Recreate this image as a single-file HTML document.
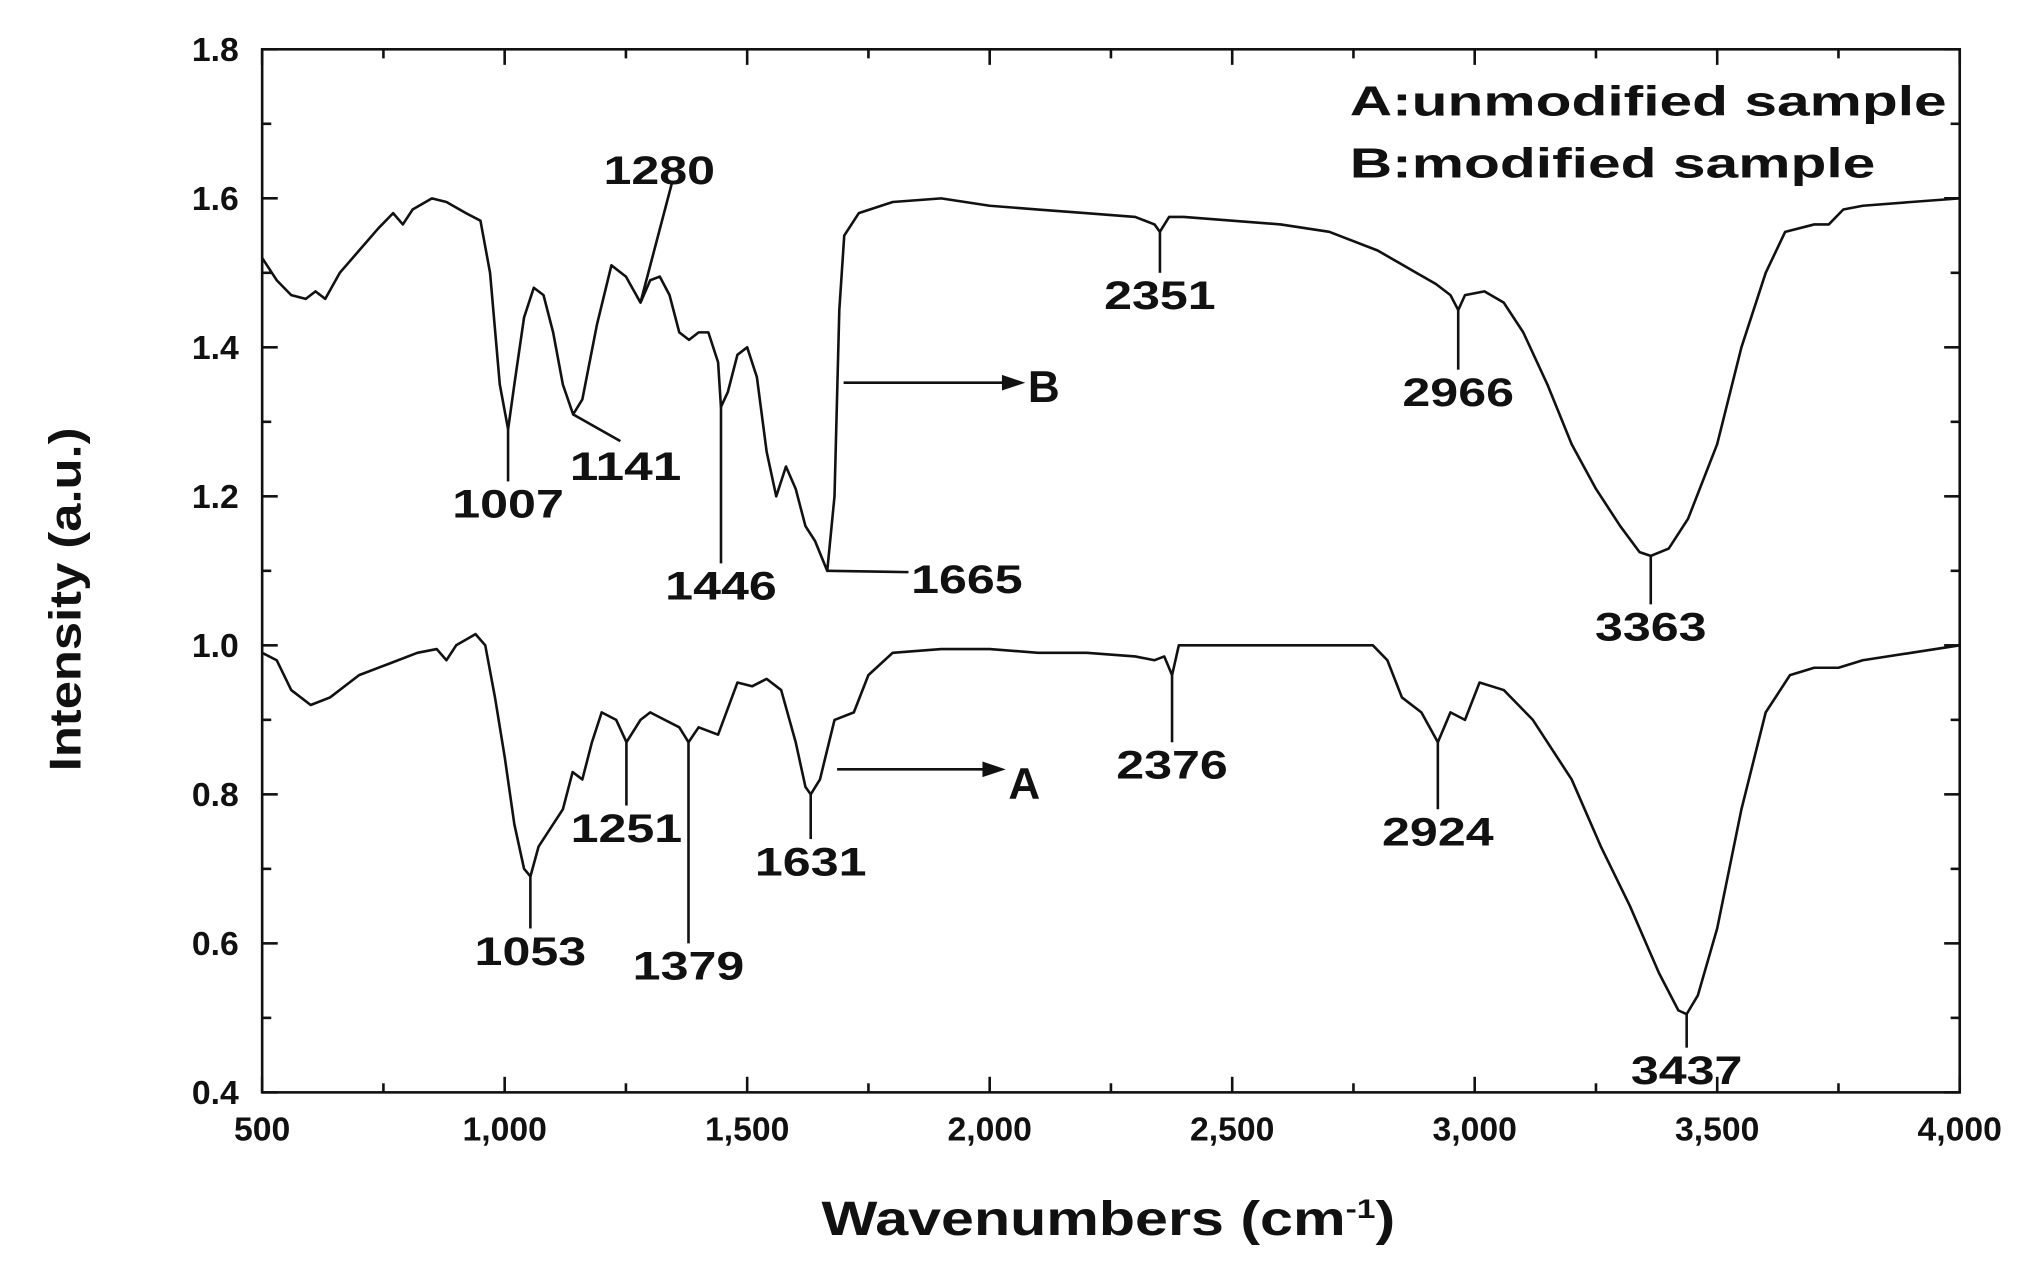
<!DOCTYPE html>
<html><head><meta charset="utf-8"><style>
html,body{margin:0;padding:0;background:#fff;}
svg{display:block;}
text{font-family:"Liberation Sans",Arial,sans-serif;font-weight:bold;fill:#111;}
</style></head><body>
<svg id="chart" width="2035" height="1274" viewBox="0 0 1568 982" preserveAspectRatio="none" xmlns="http://www.w3.org/2000/svg"></svg>
<script>
const bX=[500,530,560,590,610,630,660,700,740,770,790,810,850,880,920,950,970,990,1007,1020,1040,1060,1080,1100,1120,1141,1160,1190,1220,1250,1280,1300,1320,1340,1360,1380,1400,1420,1440,1446,1460,1480,1500,1520,1540,1560,1580,1600,1620,1640,1665,1680,1690,1700,1730,1800,1900,2000,2100,2200,2300,2340,2351,2370,2400,2500,2600,2700,2800,2880,2920,2950,2966,2980,3020,3060,3100,3150,3200,3250,3300,3340,3363,3400,3440,3500,3550,3600,3640,3700,3730,3760,3800,3900,4000];
const bY=[1.52,1.49,1.47,1.465,1.475,1.465,1.50,1.53,1.56,1.58,1.565,1.585,1.60,1.595,1.58,1.57,1.50,1.35,1.29,1.35,1.44,1.48,1.47,1.42,1.35,1.31,1.33,1.43,1.51,1.495,1.46,1.49,1.495,1.47,1.42,1.41,1.42,1.42,1.38,1.32,1.34,1.39,1.40,1.36,1.26,1.20,1.24,1.21,1.16,1.14,1.10,1.20,1.45,1.55,1.58,1.595,1.60,1.59,1.585,1.58,1.575,1.565,1.555,1.575,1.575,1.57,1.565,1.555,1.53,1.50,1.485,1.47,1.45,1.47,1.475,1.46,1.42,1.35,1.27,1.21,1.16,1.125,1.12,1.13,1.17,1.27,1.40,1.50,1.555,1.565,1.565,1.585,1.59,1.595,1.60];
const aX=[500,530,560,600,640,700,760,820,860,880,900,940,960,980,1000,1020,1040,1053,1070,1100,1120,1140,1160,1180,1200,1230,1251,1280,1300,1330,1360,1379,1400,1440,1480,1510,1540,1570,1600,1620,1631,1650,1680,1720,1750,1800,1900,2000,2100,2200,2300,2340,2360,2376,2390,2500,2600,2700,2790,2820,2850,2890,2924,2950,2980,3010,3060,3120,3200,3260,3320,3380,3420,3437,3460,3500,3550,3600,3650,3700,3750,3800,3900,4000];
const aY=[0.99,0.98,0.94,0.92,0.93,0.96,0.975,0.99,0.995,0.98,1.0,1.015,1.0,0.93,0.85,0.76,0.70,0.69,0.73,0.76,0.78,0.83,0.82,0.87,0.91,0.90,0.87,0.90,0.91,0.90,0.89,0.87,0.89,0.88,0.95,0.945,0.955,0.94,0.87,0.81,0.80,0.82,0.90,0.91,0.96,0.99,0.995,0.995,0.99,0.99,0.985,0.98,0.985,0.96,1.0,1.0,1.0,1.0,1.0,0.98,0.93,0.91,0.87,0.91,0.90,0.95,0.94,0.90,0.82,0.73,0.65,0.56,0.51,0.505,0.53,0.62,0.78,0.91,0.96,0.97,0.97,0.98,0.99,1.0];
const xTicks=[500,1000,1500,2000,2500,3000,3500,4000];
const xTickLabels=["500","1,000","1,500","2,000","2,500","3,000","3,500","4,000"];
const yTicks=[0.4,0.6,0.8,1.0,1.2,1.4,1.6,1.8];
const yTickLabels=["0.4","0.6","0.8","1.0","1.2","1.4","1.6","1.8"];
const annW=[1007,1446,2351,2966,3363,1053,1251,1379,1631,2376,2924,3437];
const annY1=[1.29,1.32,1.555,1.45,1.12,0.69,0.87,0.87,0.80,0.96,0.87,0.505];
const annY2=[1.22,1.11,1.50,1.37,1.055,0.62,0.785,0.60,0.74,0.87,0.78,0.46];
const annLbl=["1007","1446","2351","2966","3363","1053","1251","1379","1631","2376","2924","3437"];

const L=202,R=1510,T=38,B=842;
const sx=v=>L+(v-500)/3500*(R-L);
const sy=v=>B-(v-0.4)/1.4*(B-T);
const svg=document.getElementById('chart');
const NS='http://www.w3.org/2000/svg';
function mk(tag,attrs,parent){const e=document.createElementNS(NS,tag);for(const k in attrs)e.setAttribute(k,attrs[k]);(parent||svg).appendChild(e);return e;}

const frame=mk('rect',{x:L,y:T,width:R-L,height:B-T,fill:'none',stroke:'#111','stroke-width':2});



for(let v=500;v<=4000;v+=250){
  const major=(v%500===0),len=major?12:7,x=sx(v);
  const t1=mk('line',{x1:x,y1:B,x2:x,y2:B-len,stroke:'#111','stroke-width':2});
  
  
  const t2=mk('line',{x1:x,y1:T,x2:x,y2:T+len,stroke:'#111','stroke-width':2});
  
  
}
xTicks.forEach((v,i)=>{
  const t=mk('text',{x:sx(v),y:B+37,'font-size':26,'text-anchor':'middle'});
  t.textContent=xTickLabels[i];
  
  
});
for(let k=0;k<=14;k++){
  const v=0.4+k*0.1,major=(k%2===0),len=major?12:7,y=sy(v);
  const t1=mk('line',{x1:L,y1:y,x2:L+len,y2:y,stroke:'#111','stroke-width':2});
  
  
  const t2=mk('line',{x1:R,y1:y,x2:R-len,y2:y,stroke:'#111','stroke-width':2});
  
  
}
yTicks.forEach((v,i)=>{
  const t=mk('text',{x:L-18,y:sy(v)+9,'font-size':26,'text-anchor':'end'});
  t.textContent=yTickLabels[i];
  
  
});

function series(xs,ys,name){
  const d=xs.map((x,i)=>(i?'L':'M')+sx(x).toFixed(1)+','+sy(ys[i]).toFixed(1)).join(' ');
  const p=mk('path',{d:d,fill:'none',stroke:'#111','stroke-width':2,'stroke-linejoin':'round'});
  
  
}
series(bX,bY,'series-b-modified');
series(aX,aY,'series-a-unmodified');

function lbl(x,y,s,name){
  const t=mk('text',{x:x,y:y,'font-size':31,'text-anchor':'middle',textLength:86,lengthAdjust:'spacingAndGlyphs'});
  t.textContent=s;
  
  
}
annW.forEach((w,i)=>{
  const x=sx(w);
  const l=mk('line',{x1:x,y1:sy(annY1[i]),x2:x,y2:sy(annY2[i]),stroke:'#111','stroke-width':2});
  
  
  lbl(x,sy(annY2[i])+28,annLbl[i],'peak-label-'+annLbl[i]);
});
function extra(x1,y1,x2,y2,lx,ly,s){
  const l=mk('line',{x1:x1,y1:y1,x2:x2,y2:y2,stroke:'#111','stroke-width':2});
  
  
  lbl(lx,ly,s,'peak-label-'+s);
}
extra(sx(1141),sy(1.31),478,340,482,370,'1141');
extra(sx(1280),sy(1.46),518,140,508,142,'1280');
extra(sx(1665),sy(1.10),700,441,745,457,'1665');

function arrow(x1,y,x2,s,ly){
  const l=mk('line',{x1:x1,y1:y,x2:x2-14,y2:y,stroke:'#111','stroke-width':2});
  
  
  const h=mk('polygon',{points:`${x2},${y} ${x2-18},${y-6} ${x2-18},${y+6}`,fill:'#111'});
  
  
  const t=mk('text',{x:x2+2,y:ly,'font-size':34});
  t.textContent=s;
  
  
}
arrow(650,295,790,'B',310);
arrow(645,593,775,'A',616);

const lg1=mk('text',{x:1040,y:89,'font-size':32,textLength:460,lengthAdjust:'spacingAndGlyphs'});
lg1.textContent='A:unmodified sample';


const lg2=mk('text',{x:1040,y:137,'font-size':32,textLength:405,lengthAdjust:'spacingAndGlyphs'});
lg2.textContent='B:modified sample';



const xt=mk('text',{x:633,y:952,'font-size':37,textLength:442,lengthAdjust:'spacingAndGlyphs'});
xt.innerHTML='Wavenumbers (cm<tspan dy="-13" font-size="21">-1</tspan><tspan dy="13">)</tspan>';


const yt=mk('text',{x:0,y:0,'font-size':34,'text-anchor':'middle',textLength:265,lengthAdjust:'spacingAndGlyphs',transform:'translate(62,462) rotate(-90)'});
yt.textContent='Intensity (a.u.)';


</script>
</body></html>
